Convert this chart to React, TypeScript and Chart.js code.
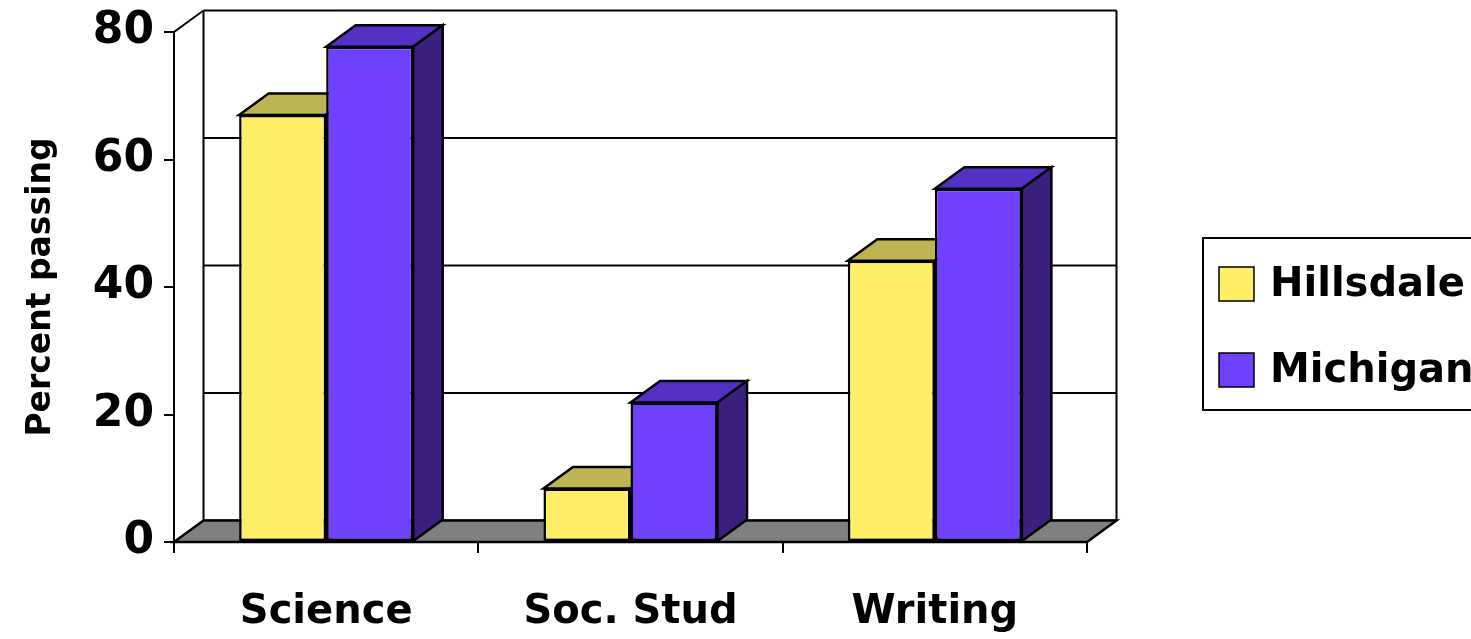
import React, { useEffect, useRef } from 'react';
import { Chart, registerables } from 'chart.js';

Chart.register(...registerables);

const categories = ['Science', 'Soc. Stud', 'Writing'];
const hillsdale = [67, 8.4, 44.1];
const michigan = [77.7, 21.9, 55.4];
const seriesNames = ['Hillsdale', 'Michigan'];
const yTicks = [0, 20, 40, 60, 80];

const FONT = "'DejaVu Sans', sans-serif";
const DX = 29.5;
const DY = -21.5;

const faceColors = [
  { front: '#FFEE66', top: '#BFB453', side: '#8F873F' },
  { front: '#7040FF', top: '#5530C4', side: '#3B2080' },
];

function poly(ctx: CanvasRenderingContext2D, pts: number[][], fill: string) {
  ctx.beginPath();
  ctx.moveTo(pts[0][0], pts[0][1]);
  for (let i = 1; i < pts.length; i++) ctx.lineTo(pts[i][0], pts[i][1]);
  ctx.closePath();
  ctx.fillStyle = fill;
  ctx.fill();
  ctx.stroke();
}

function line(ctx: CanvasRenderingContext2D, x1: number, y1: number, x2: number, y2: number) {
  ctx.beginPath();
  ctx.moveTo(x1, y1);
  ctx.lineTo(x2, y2);
  ctx.stroke();
}

const threeD = {
  id: 'threeD',
  beforeDatasetsDraw(chart: any) {
    const ctx: CanvasRenderingContext2D = chart.ctx;
    const { left, right, top, bottom } = chart.chartArea;
    const ys = chart.scales.y;
    ctx.save();
    ctx.strokeStyle = '#000';
    ctx.lineWidth = 2;
    ctx.lineJoin = 'miter';
    // back wall
    ctx.fillStyle = '#fff';
    ctx.fillRect(left + DX, top + DY, right - left, bottom - top);
    for (const v of yTicks) {
      const y = ys.getPixelForValue(v) + DY;
      line(ctx, left + DX, y, right + DX, y);
    }
    line(ctx, left + DX, top + DY, left + DX, bottom + DY);
    line(ctx, right + DX, top + DY, right + DX, bottom + DY);
    line(ctx, left, top, left + DX, top + DY);
    // floor
    ctx.lineWidth = 2.5;
    poly(ctx, [[left, bottom], [right, bottom], [right + DX, bottom + DY], [left + DX, bottom + DY]], '#808080');
    // bar tops and sides
    chart.data.datasets.forEach((ds: any, i: number) => {
      const meta = chart.getDatasetMeta(i);
      const c = faceColors[i];
      meta.data.forEach((bar: any) => {
        const { x, y, base, width } = bar.getProps(['x', 'y', 'base', 'width'], true);
        const x0 = x - width / 2;
        const x1 = x + width / 2;
        poly(ctx, [[x0, y], [x1, y], [x1 + DX, y + DY], [x0 + DX, y + DY]], c.top);
        poly(ctx, [[x1, y], [x1 + DX, y + DY], [x1 + DX, base + DY], [x1, base]], c.side);
      });
    });
    ctx.restore();
  },
  afterDraw(chart: any) {
    const ctx: CanvasRenderingContext2D = chart.ctx;
    ctx.save();
    ctx.strokeStyle = '#000';
    ctx.lineWidth = 2;
    ctx.fillStyle = '#fff';
    ctx.fillRect(1203, 238, 300, 172);
    ctx.strokeRect(1203, 238, 300, 172);
    const rows = [284, 370];
    seriesNames.forEach((name, i) => {
      ctx.fillStyle = faceColors[i].front;
      ctx.fillRect(1219, rows[i] - 17, 35, 34);
      ctx.lineWidth = 1.5;
      ctx.strokeRect(1219, rows[i] - 17, 35, 34);
      ctx.fillStyle = '#000';
      ctx.font = `bold 40px ${FONT}`;
      ctx.textBaseline = 'middle';
      ctx.textAlign = 'left';
      ctx.fillText(name, 1270, rows[i] + 2);
    });
    ctx.restore();
  },
};

export default function App() {
  const ref = useRef<HTMLCanvasElement>(null);
  useEffect(() => {
    if (!ref.current) return;
    Chart.defaults.font.family = FONT;
    Chart.defaults.color = '#000';
    const chart = new Chart(ref.current, {
      type: 'bar',
      data: {
        labels: categories,
        datasets: [
          {
            label: seriesNames[0],
            data: hillsdale,
            backgroundColor: faceColors[0].front,
            borderColor: '#000',
            borderWidth: 2.5,
            borderSkipped: false,
            categoryPercentage: 0.572,
            barPercentage: 1,
          },
          {
            label: seriesNames[1],
            data: michigan,
            backgroundColor: faceColors[1].front,
            borderColor: '#000',
            borderWidth: 2.5,
            borderSkipped: false,
            categoryPercentage: 0.572,
            barPercentage: 1,
          },
        ],
      },
      options: {
        responsive: false,
        animation: false,
        layout: { padding: { top: 32, right: 384, left: 0, bottom: 0 } },
        plugins: { legend: { display: false }, tooltip: { enabled: false } },
        scales: {
          x: {
            ticks: { font: { size: 40, weight: 'bold' }, color: '#000', padding: 36 },
            grid: { offset: true, drawOnChartArea: false, drawTicks: true, tickLength: 11, color: '#000', lineWidth: 2 },
            border: { display: true, color: '#000', width: 2 },
            afterFit: (s: any) => { s.height = 97; },
          },
          y: {
            min: 0,
            max: 80,
            ticks: { stepSize: 20, font: { size: 44, weight: 'bold', lineHeight: 0.8 }, color: '#000', padding: 10 },
            grid: { drawOnChartArea: false, drawTicks: true, tickLength: 10, color: '#000', lineWidth: 2 },
            border: { display: true, color: '#000', width: 2 },
            title: { display: true, text: 'Percent passing', font: { size: 33, weight: 'bold' }, color: '#000', padding: { top: 22, bottom: 0 } },
            afterFit: (s: any) => { s.width = 174; },
          },
        },
      },
      plugins: [threeD],
    } as any);
    return () => chart.destroy();
  }, []);
  return (
    <div style={{ position: 'fixed', left: 0, top: 0, width: 1471, height: 639, background: '#fff' }}>
      <canvas ref={ref} width={1471} height={639} style={{ display: 'block' }} />
    </div>
  );
}
